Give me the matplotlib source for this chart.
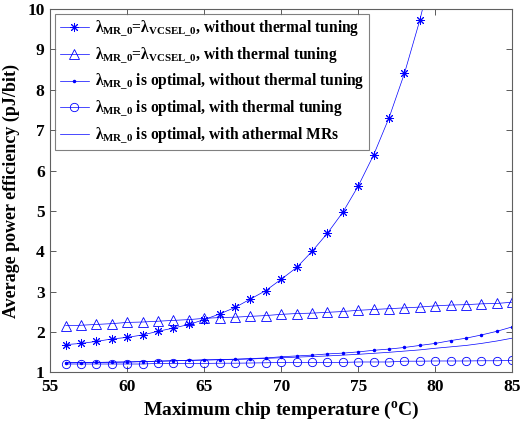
import matplotlib
matplotlib.use("Agg")
import matplotlib.pyplot as plt

plt.rcParams['font.family'] = ['Liberation Serif', 'DejaVu Serif']
plt.rcParams['font.weight'] = 'bold'
plt.rcParams['mathtext.fontset'] = 'custom'
plt.rcParams['mathtext.rm'] = 'Liberation Serif:bold'
plt.rcParams['mathtext.it'] = 'Liberation Serif:bold'
plt.rcParams['mathtext.bf'] = 'Liberation Serif:bold'

temps = list(range(56, 86))
# lambda_MR_0 = lambda_VCSEL_0, without thermal tuning (goes off chart after 79)
star_temps = list(range(56, 81))
star_vals = [1.69, 1.72, 1.77, 1.83, 1.87, 1.93, 2.02, 2.10, 2.19, 2.31, 2.45, 2.61,
             2.82, 3.03, 3.31, 3.60, 4.00, 4.45, 4.97, 5.62, 6.39, 7.31, 8.41, 9.73, 11.30]
# lambda_MR_0 = lambda_VCSEL_0, with thermal tuning
tri_vals = [2.16, 2.17, 2.19, 2.21, 2.24, 2.25, 2.27, 2.29, 2.31, 2.34, 2.36, 2.37,
            2.39, 2.41, 2.44, 2.46, 2.47, 2.49, 2.51, 2.54, 2.56, 2.58, 2.60, 2.62,
            2.65, 2.67, 2.68, 2.70, 2.71, 2.74]
# lambda_MR_0 optimal, without thermal tuning
dot_vals = [1.24, 1.245, 1.25, 1.255, 1.26, 1.27, 1.28, 1.29, 1.30, 1.31, 1.32, 1.33,
            1.345, 1.36, 1.39, 1.41, 1.43, 1.46, 1.48, 1.51, 1.55, 1.58, 1.62, 1.67,
            1.72, 1.79, 1.85, 1.93, 2.02, 2.13]
# lambda_MR_0 optimal, with thermal tuning
circ_vals = [1.21, 1.21, 1.21, 1.21, 1.21, 1.21, 1.225, 1.225, 1.225, 1.225, 1.23, 1.23,
             1.235, 1.24, 1.25, 1.25, 1.25, 1.25, 1.25, 1.26, 1.26, 1.26, 1.28, 1.28,
             1.285, 1.285, 1.285, 1.29, 1.29, 1.30]
# lambda_MR_0 optimal, with athermal MRs
ath_vals = [1.24, 1.245, 1.25, 1.255, 1.26, 1.27, 1.28, 1.29, 1.30, 1.31, 1.315, 1.325,
            1.335, 1.35, 1.365, 1.38, 1.395, 1.41, 1.43, 1.45, 1.475, 1.50, 1.53, 1.56,
            1.60, 1.635, 1.67, 1.72, 1.78, 1.85]

labels = [
    r'$\lambda_{MR\_0}$=$\lambda_{VCSEL\_0}$, without thermal tuning',
    r'$\lambda_{MR\_0}$=$\lambda_{VCSEL\_0}$, with thermal tuning',
    r'$\lambda_{MR\_0}$ is optimal, without thermal tuning',
    r'$\lambda_{MR\_0}$ is optimal, with thermal tuning',
    r'$\lambda_{MR\_0}$ is optimal, with athermal MRs',
]
xticks = [55, 60, 65, 70, 75, 80, 85]
yticks = list(range(1, 11))

fig = plt.figure(figsize=(5.21, 4.23), dpi=100)
ax = fig.add_axes([0.0965, 0.1194, 0.8868, 0.8593])

c = 'blue'
lw = 0.5
asterisk = (8, 2, 0)
ax.plot(star_temps, star_vals, color=c, lw=lw, marker=asterisk, ms=6.5, mew=0.7, label=labels[0])
ax.plot(temps, tri_vals, color=c, lw=lw, marker='^', ms=7, mfc='none', mew=0.6, label=labels[1])
ax.plot(temps, dot_vals, color=c, lw=lw, marker='.', ms=3, label=labels[2])
ax.plot(temps, circ_vals, color=c, lw=lw, marker='o', ms=6, mfc='none', mew=0.6, label=labels[3])
ax.plot(temps, ath_vals, color=c, lw=lw, label=labels[4])

ax.set_xlim(55, 85)
ax.set_ylim(1, 10)
ax.set_xticks(xticks)
ax.set_yticks(yticks)
ax.tick_params(direction='in', top=True, right=True, length=4, width=0.6,
               labelsize=12.5, colors='#404040', labelcolor='black')
ax.tick_params(axis='x', pad=5)
ax.tick_params(axis='y', pad=4)
for s in ax.spines.values():
    s.set_color('#606060')
    s.set_linewidth(0.8)

ax.set_xlabel(r'Maximum chip temperature ($^{\mathrm{o}}$C)', fontsize=14, fontweight='bold', labelpad=3)
ax.set_ylabel('Average power efficiency (pJ/bit)', fontsize=13, fontweight='bold', labelpad=5)

leg = ax.legend(loc='upper left', fontsize=11.2, frameon=True, fancybox=False,
                edgecolor='#606060', borderaxespad=0.3, handlelength=1.9,
                handletextpad=0.35, labelspacing=0.4, borderpad=0.3)
leg.get_frame().set_linewidth(0.8)

fig.savefig('out.png', dpi=100)
